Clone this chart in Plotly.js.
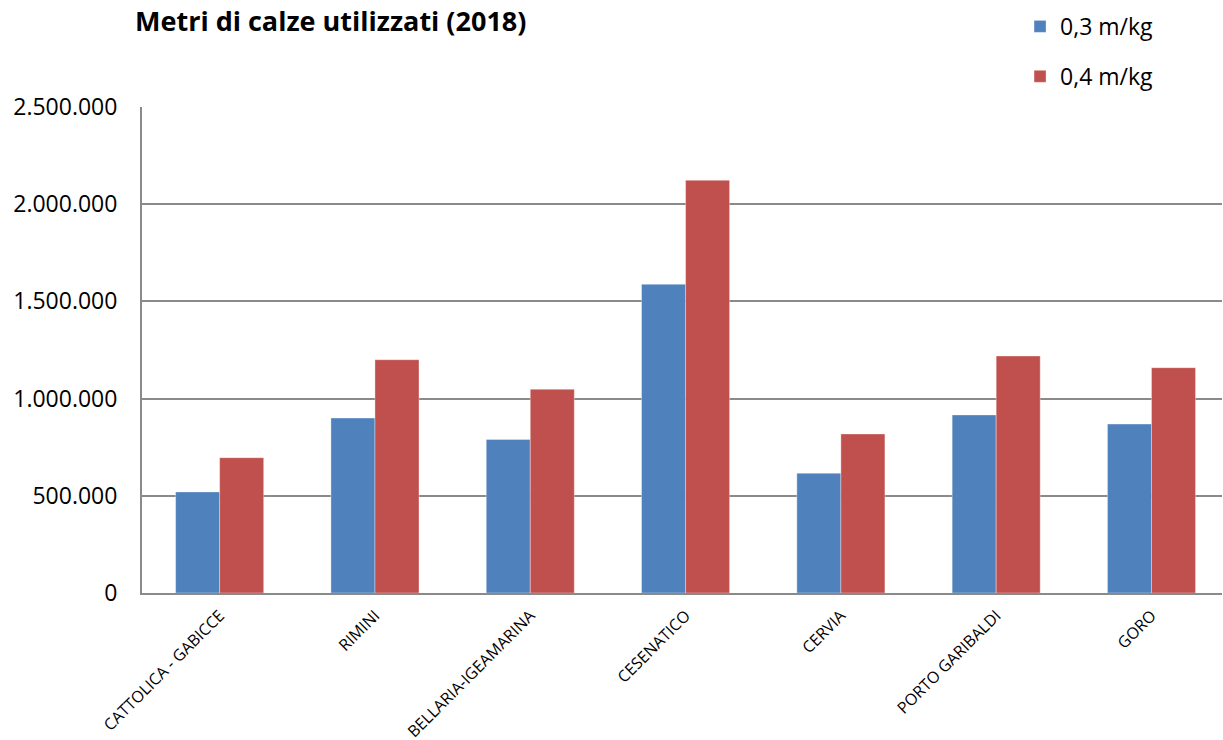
<!DOCTYPE html>
<html>
<head>
<meta charset="utf-8">
<script src="https://cdn.plot.ly/plotly-3.0.1.min.js"></script>
<style>
  html, body { margin: 0; padding: 0; background: #fff; }
  #chart { width: 1223px; height: 740px; }
</style>
</head>
<body>
<div id="chart"></div>
<script>
// Ports of the Emilia-Romagna coast
const ports = [
  'CATTOLICA - GABICCE',
  'RIMINI',
  'BELLARIA-IGEAMARINA',
  'CESENATICO',
  'CERVIA',
  'PORTO GARIBALDI',
  'GORO'
];

// Metres of mussel socks used, by yield per kilogram
const metres03 = [520000, 900000, 790000, 1588000, 616000, 916000, 869000];
const metres04 = [696000, 1200000, 1048000, 2123000, 818000, 1219000, 1159000];

const seriesNames = ['0,3 m/kg', '0,4 m/kg'];
const yTicks = [0, 500000, 1000000, 1500000, 2000000, 2500000];

const FONT = '"Open Sans", "Noto Sans", sans-serif';
const GRID = '#8a8a8a';

const traces = [
  {
    type: 'bar',
    name: seriesNames[0],
    x: ports,
    y: metres03,
    legendgroup: 'a',
    marker: { color: '#4F81BD', line: { color: 'rgba(255,255,255,0.35)', width: 1 } },
    hoverinfo: 'x+y+name'
  },
  {
    type: 'bar',
    name: seriesNames[1],
    x: ports,
    y: metres04,
    legendgroup: 'b',
    marker: { color: '#C0504D', line: { color: 'rgba(255,255,255,0.35)', width: 1 } },
    hoverinfo: 'x+y+name'
  }
];

const layout = {
  width: 1223,
  height: 740,
  paper_bgcolor: '#ffffff',
  plot_bgcolor: '#ffffff',
  separators: ',.',
  margin: { l: 142, r: 1, t: 107, b: 147, pad: 0 },
  font: { family: FONT, color: '#000000' },
  title: {
    text: '<b>Metri di calze utilizzati (2018)</b>',
    font: { family: FONT, size: 27, color: '#000000' },
    xref: 'container',
    yref: 'container',
    x: 135 / 1223,
    xanchor: 'left',
    y: 1 - 22 / 740,
    yanchor: 'middle'
  },
  barmode: 'group',
  bargap: 0.433,
  bargroupgap: 0,
  showlegend: true,
  legend: {
    x: 0.813,
    xanchor: 'left',
    y: 1.21,
    yanchor: 'top',
    traceorder: 'grouped',
    tracegroupgap: 17,
    font: { family: FONT, size: 23, color: '#000000' },
    bgcolor: 'rgba(0,0,0,0)'
  },
  xaxis: {
    type: 'category',
    // the last category runs slightly past the right edge of the plot
    range: [-0.5, 6.454],
    tickangle: -45,
    tickfont: { family: FONT, size: 16, color: '#000000' },
    ticklabelstandoff: 5,
    showline: true,
    linecolor: GRID,
    linewidth: 2,
    ticks: '',
    showgrid: false,
    zeroline: false,
    fixedrange: true
  },
  yaxis: {
    range: [0, 2500000],
    tickvals: yTicks,
    tickformat: ',d',
    tickfont: { family: FONT, size: 23, color: '#000000' },
    ticks: '',
    ticklabelstandoff: 18,
    showline: true,
    linecolor: GRID,
    linewidth: 2,
    showgrid: true,
    gridcolor: GRID,
    gridwidth: 2,
    zeroline: false,
    fixedrange: true
  }
};

Plotly.newPlot('chart', traces, layout, { displayModeBar: false });
</script>
</body>
</html>
